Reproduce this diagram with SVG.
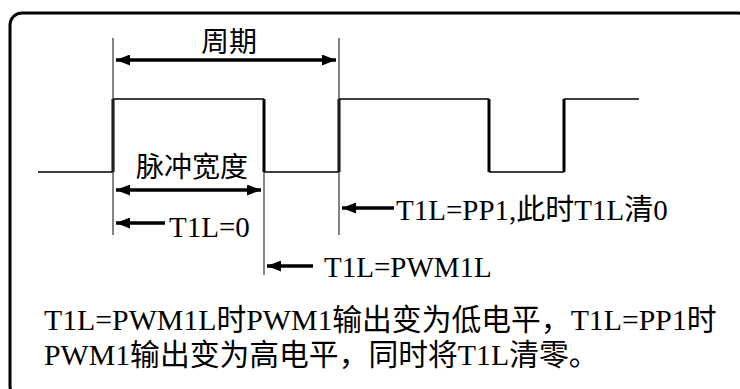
<svg xmlns="http://www.w3.org/2000/svg" width="740" height="389" viewBox="0 0 740 389">
<style>
.frame{fill:none;stroke:#000;stroke-width:3}
.guide{stroke:#333;stroke-width:1.2;fill:none}
.hl{stroke:#000;stroke-width:1.5;fill:none}
.edge{stroke:#000;stroke-width:3;fill:none}
.arr{stroke:#000;stroke-width:3.5;fill:none}
.t{font-family:'Liberation Serif','Noto Sans CJK SC',serif;font-size:29px;fill:#000}
.cap{font-family:'Liberation Serif','Noto Sans CJK SC',serif;font-size:29.8px;fill:#000}
.c{font-family:'Noto Sans CJK SC',sans-serif;font-size:28px;fill:#000}
</style>
<defs>
<marker id="ah" viewBox="0 0 14 11" refX="14" refY="5.5" markerWidth="14" markerHeight="11" markerUnits="userSpaceOnUse" orient="auto-start-reverse">
<path d="M0,0 L14,5.5 L0,11 Z" fill="#000"/>
</marker>
</defs>
<rect class="frame" x="10" y="13" width="740" height="385" rx="12"/>
<g id="waveform">
<path class="hl" d="M38,172 H113 M113,99 H264 M264,172 H339 M339,99 H489 M489,172 H564 M564,99 H639"/>
<path class="edge" d="M113,172 V99 M264,99 V172 M339,172 V99 M489,99 V172 M564,172 V99"/>
</g>
<g id="guides">
<line class="guide" x1="113" y1="38" x2="113" y2="235"/>
<line class="guide" x1="339" y1="38" x2="339" y2="235"/>
<line class="guide" x1="264" y1="172" x2="264" y2="275"/>
</g>
<g id="connectors">
<line class="arr" x1="116" y1="60" x2="336" y2="60" marker-start="url(#ah)" marker-end="url(#ah)"/>
<line class="arr" x1="116" y1="190" x2="261" y2="190" marker-start="url(#ah)" marker-end="url(#ah)"/>
<line class="arr" x1="165" y1="223" x2="116" y2="223" marker-end="url(#ah)"/>
<line class="arr" x1="313" y1="266" x2="267" y2="266" marker-end="url(#ah)"/>
<line class="arr" x1="394" y1="208" x2="342" y2="208" marker-end="url(#ah)"/>
</g>
<g id="label-period"><text class="c" x="229" y="52" text-anchor="middle">周期</text></g>
<g id="label-width"><text class="c" x="192" y="177" text-anchor="middle">脉冲宽度</text></g>
<g id="label-t1l0"><text class="t" x="169" y="237">T1L=0</text></g>
<g id="label-pwm1l"><text class="t" x="324" y="277">T1L=PWM1L</text></g>
<g id="label-pp1"><text class="t" x="396" y="220">T1L=PP1,此时T1L清0</text></g>
<g id="caption">
<text class="cap" x="44" y="330">T1L=PWM1L时PWM1输出变为低电平，T1L=PP1时</text>
<text class="cap" x="44" y="365">PWM1输出变为高电平，同时将T1L清零。</text>
</g>
</svg>
